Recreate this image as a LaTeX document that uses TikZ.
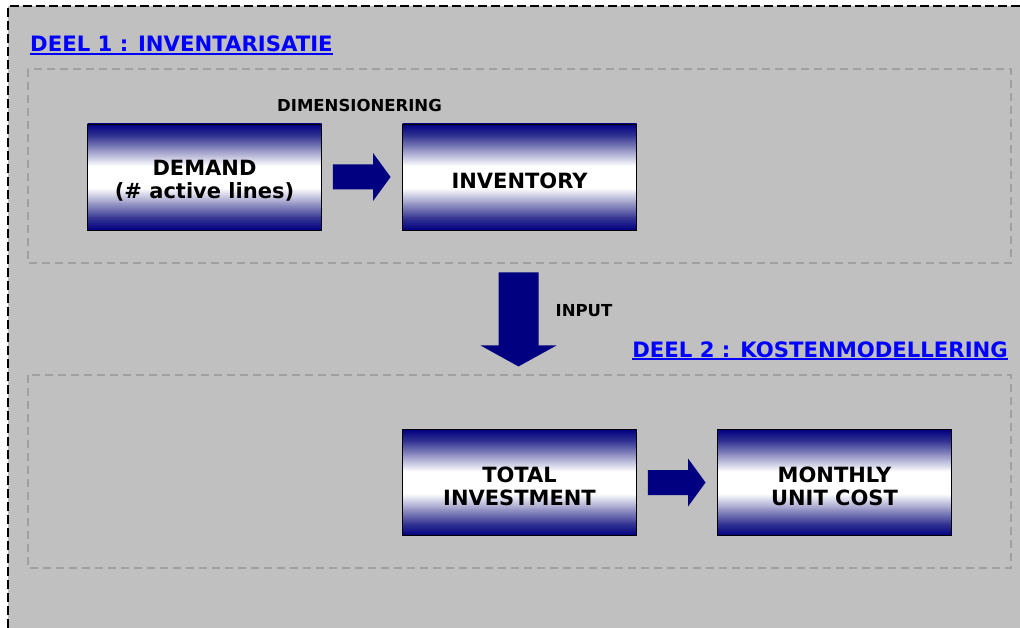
\documentclass[tikz,border=0pt]{standalone}
\usepackage{fontspec}
\setmainfont{DejaVu Sans}
\usetikzlibrary{calc}
\definecolor{panelgray}{RGB}{192,192,192}
\definecolor{framegray}{RGB}{160,160,160}
\definecolor{navyblock}{RGB}{0,0,128}
\definecolor{linkblue}{RGB}{0,0,255}
\definecolor{rampA}{RGB}{55,55,148}
\definecolor{rampB}{RGB}{150,150,198}
\tikzset{
  % stage box: navy edges fading into a white band across the middle
  stagebox/.style={draw=black, line width=0.9pt, minimum width=234pt, minimum height=106pt,
    inner sep=0pt,
    path picture={
      \coordinate (ppnw) at (path picture bounding box.north west);
      \coordinate (ppse) at (path picture bounding box.south east);
      \fill[white] (ppnw) rectangle (ppse);
      \fill[top color=navyblock, bottom color=rampA] (ppnw) rectangle ($(ppse|-ppnw)+(0,12.5)$);
      \fill[top color=rampA, bottom color=rampB] ($(ppnw)+(0,12)$) rectangle ($(ppse|-ppnw)+(0,26.5)$);
      \fill[top color=rampB, bottom color=white] ($(ppnw)+(0,26)$) rectangle ($(ppse|-ppnw)+(0,42)$);
      \fill[top color=white, bottom color=rampB] ($(ppnw|-ppse)+(0,-42)$) rectangle ($(ppse)+(0,-26)$);
      \fill[top color=rampB, bottom color=rampA] ($(ppnw|-ppse)+(0,-26.5)$) rectangle ($(ppse)+(0,-12)$);
      \fill[top color=rampA, bottom color=navyblock] ($(ppnw|-ppse)+(0,-12.5)$) rectangle (ppse);
    }},
  stagetext/.style={align=center, font=\fontsize{21}{23}\selectfont\bfseries, inner sep=0pt,
    yshift=-3.5pt},
  arrowfill/.style={fill=navyblock},
  sectiontitle/.style={text=linkblue, font=\fontsize{21.2}{25}\selectfont\bfseries, inner sep=0pt},
  flowlabel/.style={font=\fontsize{16.5}{19}\selectfont\bfseries, inner sep=0pt},
  groupframe/.style={draw=framegray, line width=1.3pt, dash pattern=on 8pt off 5pt},
}
% horizontal block arrow between two stage boxes
\newcommand\hblockarrow[2]{%
  \fill[arrowfill] ($(#1.east)+(11,-12.5)$) -- ($(#2.west)+(-29,-12.5)$)
    -- ($(#2.west)+(-29,-24)$) -- ($(#2.west)+(-11.5,0)$) -- ($(#2.west)+(-29,24)$)
    -- ($(#2.west)+(-29,12.5)$) -- ($(#1.east)+(11,12.5)$) -- cycle;}
\begin{document}
\begin{tikzpicture}[x=1pt, y=-1pt]
  \useasboundingbox (0,0) rectangle (1020,628);
  % worksheet panel
  \fill[panelgray] (8,6) rectangle (1020,628);
  \draw[black, line width=1.2pt, dash pattern=on 9pt off 4pt] (8,628) -- (8,6) -- (1020,6);

  % group frames
  \draw[groupframe] (28,69) rectangle (1011,263);
  \draw[groupframe] (28,375) rectangle (1011,568);

  % section titles
  \node[sectiontitle, anchor=base west] (title1) at (30,52) {DEEL 1 : INVENTARISATIE};
  \draw[linkblue, line width=1.4pt] ($(title1.base west)+(0,2)$) -- ($(title1.base east)+(0,2)$);
  \node[sectiontitle, anchor=base east] (title2) at (1008,357) {DEEL 2 : KOSTENMODELLERING};
  \draw[linkblue, line width=1.4pt] ($(title2.base west)+(0,2)$) -- ($(title2.base east)+(0,2)$);

  % stages
  \node[stagebox, label={[stagetext]center:DEMAND\\(\# active lines)}] (demand) at (204.5,177) {};
  \node[stagebox, label={[stagetext]center:INVENTORY}] (inventory) at (519.5,177) {};
  \node[stagebox, label={[stagetext]center:TOTAL\\INVESTMENT}] (investment) at (519.5,482.5) {};
  \node[stagebox, label={[stagetext]center:MONTHLY\\UNIT COST}] (unitcost) at (834.5,482.5) {};

  % labels
  \node[flowlabel] (dim) at (359.5,105.5) {DIMENSIONERING};
  \node[flowlabel] (input) at (584,311) {INPUT};

  % block arrows
  \hblockarrow{demand}{inventory}
  \hblockarrow{investment}{unitcost}
  \fill[arrowfill] ($(inventory.south)+(-21,42)$) -- ++(40,0) -- ++(0,73) -- ++(18,0)
    -- ++(-38,21) -- ++(-38,-21) -- ++(18,0) -- cycle;
\end{tikzpicture}
\end{document}
